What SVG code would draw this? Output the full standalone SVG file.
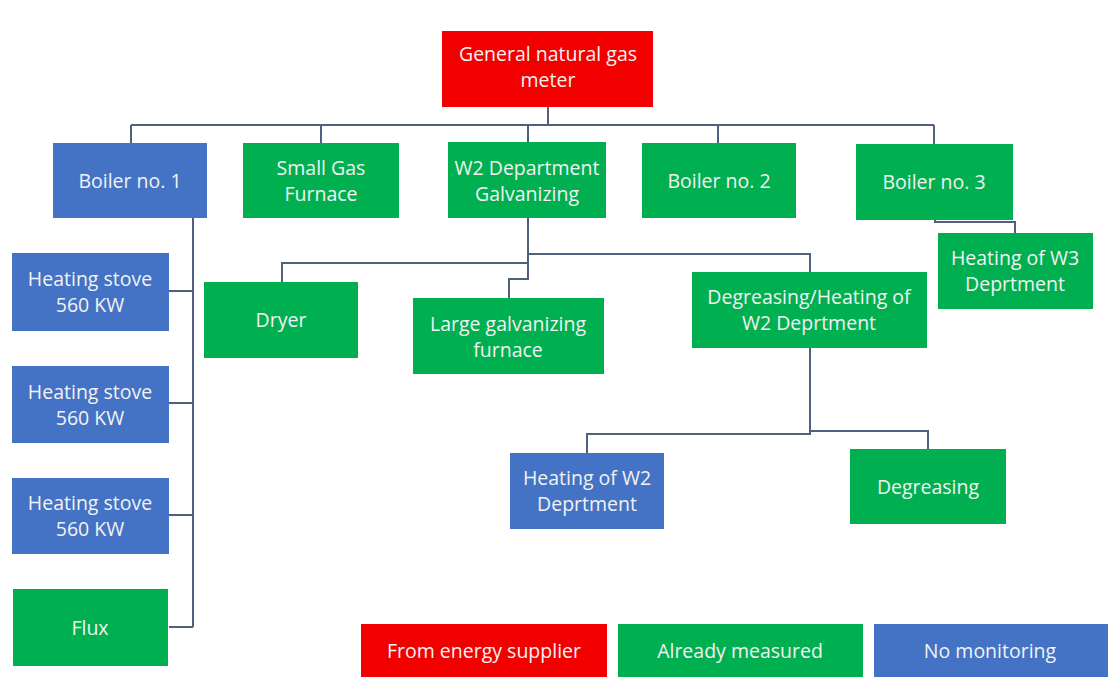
<svg xmlns="http://www.w3.org/2000/svg" width="1108" height="677" viewBox="0 0 1108 677">
<style>
.red{fill:#F20000}
.grn{fill:#00B050}
.blu{fill:#4472C4}
text{font-family:"Open Sans","Liberation Sans",sans-serif;font-size:19.5px;fill:#F2F2F2;text-anchor:middle}
.con{fill:none;stroke:#50607E;stroke-width:2}
</style>
<rect width="1108" height="677" fill="#FFFFFF"/>
<g id="connectors">
<path class="con" d="M548,107 V125 M131,125 H934 M131,125 V143 M321,125 V143 M528,125 V142 M718,125 V143 M934,125 V144"/>
<path class="con" d="M193,218 V627 M169,291 H193 M169,403 H193 M169,515 H193 M169,627 H193"/>
<path class="con" d="M528,218 V279 H509 V298 M528,263 H282 V282 M528,254 H810 V272"/>
<path class="con" d="M810,348 V434 H587 V453 M810,431 H928 V449"/>
<path class="con" d="M935,220 V222 H1015 V233"/>
</g>
<g id="gas-meter"><rect class="red" x="442" y="31" width="211" height="76"/><text x="548" y="61">General natural gas</text><text x="548" y="87">meter</text></g>
<g id="boiler1"><rect class="blu" x="53" y="143" width="154" height="75"/><text x="130" y="188">Boiler no. 1</text></g>
<g id="small-gas-furnace"><rect class="grn" x="243" y="143" width="156" height="75"/><text x="321" y="175">Small Gas</text><text x="321" y="201">Furnace</text></g>
<g id="w2-galvanizing"><rect class="grn" x="448" y="142" width="158" height="76"/><text x="527" y="175">W2 Department</text><text x="527" y="201">Galvanizing</text></g>
<g id="boiler2"><rect class="grn" x="642" y="143" width="154" height="75"/><text x="719" y="188">Boiler no. 2</text></g>
<g id="boiler3"><rect class="grn" x="856" y="144" width="157" height="76"/><text x="934" y="189">Boiler no. 3</text></g>
<g id="heating-w3"><rect class="grn" x="938" y="233" width="155" height="76"/><text x="1015" y="265">Heating of W3</text><text x="1015" y="291">Deprtment</text></g>
<g id="stove1"><rect class="blu" x="12" y="253" width="157" height="78"/><text x="90" y="286">Heating stove</text><text x="90" y="312">560 KW</text></g>
<g id="stove2"><rect class="blu" x="12" y="366" width="157" height="77"/><text x="90" y="399">Heating stove</text><text x="90" y="425">560 KW</text></g>
<g id="stove3"><rect class="blu" x="12" y="478" width="157" height="76"/><text x="90" y="510">Heating stove</text><text x="90" y="536">560 KW</text></g>
<g id="flux"><rect class="grn" x="13" y="589" width="155" height="77"/><text x="90" y="635">Flux</text></g>
<g id="dryer"><rect class="grn" x="204" y="282" width="154" height="76"/><text x="281" y="327">Dryer</text></g>
<g id="large-galvanizing"><rect class="grn" x="413" y="298" width="191" height="76"/><text x="508" y="331">Large galvanizing</text><text x="508" y="357">furnace</text></g>
<g id="degreasing-heating"><rect class="grn" x="692" y="272" width="235" height="76"/><text x="809" y="304">Degreasing/Heating of</text><text x="809" y="330">W2 Deprtment</text></g>
<g id="heating-w2"><rect class="blu" x="510" y="453" width="154" height="76"/><text x="587" y="485">Heating of W2</text><text x="587" y="511">Deprtment</text></g>
<g id="degreasing"><rect class="grn" x="850" y="449" width="156" height="75"/><text x="928" y="494">Degreasing</text></g>
<g id="legend-supplier"><rect class="red" x="361" y="624" width="246" height="60"/><text x="484" y="658">From energy supplier</text></g>
<g id="legend-measured"><rect class="grn" x="618" y="624" width="245" height="60"/><text x="740" y="658">Already measured</text></g>
<g id="legend-none"><rect class="blu" x="874" y="624" width="240" height="60"/><text x="990" y="658">No monitoring</text></g>
</svg>
